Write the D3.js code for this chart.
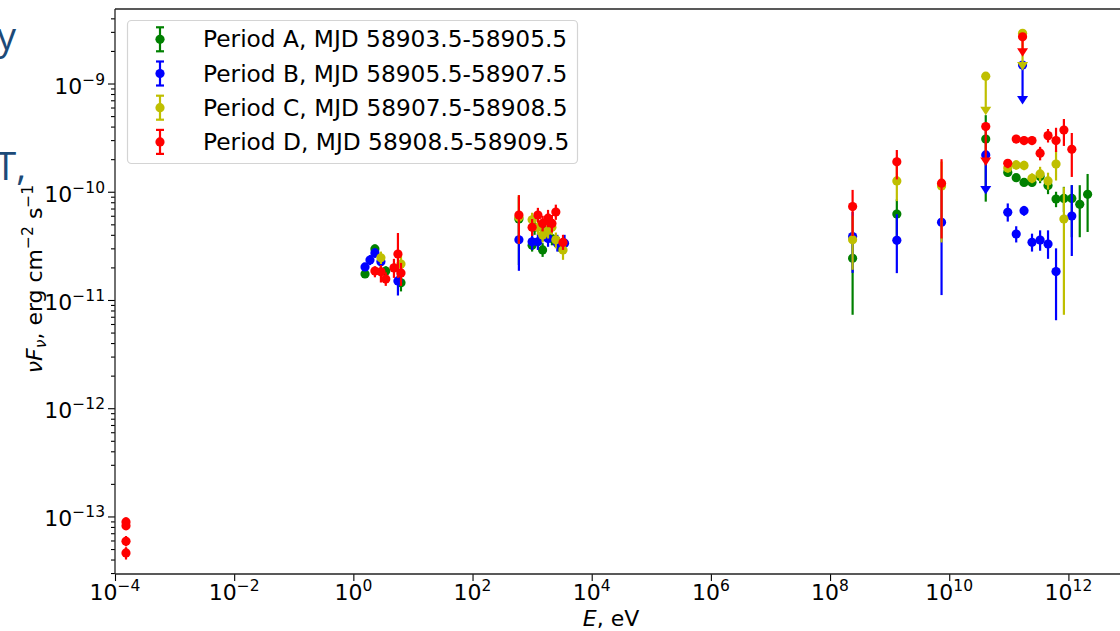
<html>
<head>
<meta charset="utf-8">
<script src="https://d3js.org/d3.v7.min.js"></script>
<style>
  body { margin:0; background:#fff; }
  svg text { font-family:"DejaVu Sans", sans-serif; fill:#000; }
</style>
</head>
<body>
<svg id="plot"></svg>
<script>

// axis limits
var xLimits = [1e-4, 1e13];
var yLimits = [2.94e-14, 4.88e-9];
var xTickExp = [-4, -2, 0, 2, 4, 6, 8, 10, 12];
var yTickExp = [-13, -12, -11, -10, -9];

// legend labels
var periodNames = ["Period A, MJD 58903.5-58905.5",
                   "Period B, MJD 58905.5-58907.5",
                   "Period C, MJD 58907.5-58908.5",
                   "Period D, MJD 58908.5-58909.5"];
var periodColors = ["#008000", "#0000ff", "#bfbf00", "#ff0000"];

// Period A
var periodA_E  = [1.57, 2.3, 3.5, 6.3, 600, 1000, 1100, 1500, 1650, 2150, 2800, 2.39e8, 1.32e9, 4.1e10, 9.6e10, 1.33e11, 1.8e11, 2.45e11, 3.35e11, 4.55e11, 6.2e11, 8.4e11, 1.14e12, 1.55e12, 2.1e12];
var periodA_F  = [1.74e-11, 2.96e-11, 1.85e-11, 1.44e-11, 5.6e-11, 3.2e-11, 4.7e-11, 2.9e-11, 4.4e-11, 3.7e-11, 3.3e-11, 2.43e-11, 6.23e-11, 3.07e-10, 1.51e-10, 1.35e-10, 1.22e-10, 1.22e-10, 1.38e-10, 1.14e-10, 8.57e-11, 8.67e-11, 8.67e-11, 7.66e-11, 9.46e-11];
var periodA_lo = [1.6e-11, 2.7e-11, 1.65e-11, 1.2e-11, 2.1e-11, 2.8e-11, 4.0e-11, 2.5e-11, 3.8e-11, 3.2e-11, 2.8e-11, 7.3e-12, 3.6e-11, 8.1e-11, 1.38e-10, 1.25e-10, 1.13e-10, 1.12e-10, 1.2e-10, 9.5e-11, 7.2e-11, 6.5e-11, 3.8e-11, 3.8e-11, 4.25e-11];
var periodA_hi = [1.9e-11, 3.25e-11, 2.05e-11, 1.7e-11, 9.0e-11, 3.7e-11, 5.5e-11, 3.35e-11, 5.1e-11, 4.3e-11, 3.8e-11, 3.9e-11, 8.5e-11, 5.1e-10, 1.65e-10, 1.46e-10, 1.32e-10, 1.33e-10, 1.58e-10, 1.35e-10, 1.0e-10, 1.11e-10, 1.15e-10, 1.15e-10, 1.46e-10];
var periodA_ulE = [], periodA_ulF = [], periodA_ulLo = [];

// Period B
var periodB_E  = [1.57, 1.9, 2.3, 2.9, 5.6, 600, 1000, 1250, 1600, 1850, 2650, 3500, 2.39e8, 1.32e9, 7.43e9, 9.6e10, 1.33e11, 1.8e11, 2.45e11, 3.35e11, 4.55e11, 6.2e11, 1.14e12];
var periodB_F  = [2.02e-11, 2.34e-11, 2.72e-11, 2.25e-11, 1.5e-11, 3.6e-11, 3.45e-11, 3.45e-11, 4.1e-11, 3.7e-11, 3.35e-11, 3.35e-11, 3.85e-11, 3.56e-11, 5.22e-11, 6.46e-11, 4.07e-11, 6.68e-11, 3.41e-11, 3.58e-11, 3.29e-11, 1.83e-11, 5.97e-11];
var periodB_lo = [1.85e-11, 2.1e-11, 2.45e-11, 1.95e-11, 1.1e-11, 1.86e-11, 2.9e-11, 2.9e-11, 3.5e-11, 3.1e-11, 2.8e-11, 2.8e-11, 1.78e-11, 1.77e-11, 1.11e-11, 5.3e-11, 3.4e-11, 6.0e-11, 2.8e-11, 2.85e-11, 2.4e-11, 6.5e-12, 2.55e-11];
var periodB_hi = [2.2e-11, 2.6e-11, 3.0e-11, 2.6e-11, 1.9e-11, 6.0e-11, 4.1e-11, 4.1e-11, 4.8e-11, 4.4e-11, 4.0e-11, 4.0e-11, 6.5e-11, 6.2e-11, 1.1e-10, 7.8e-11, 4.8e-11, 7.4e-11, 4.1e-11, 4.4e-11, 4.4e-11, 3.0e-11, 1.15e-10];
var periodB_ulE = [4.1e10, 1.7e11], periodB_ulF = [2.19e-10, 1.48e-9], periodB_ulLo = [1.04e-10, 7.05e-10];

// Period C
var periodC_E  = [2.9, 6.3, 600, 1000, 1250, 1500, 1850, 2150, 2500, 3300, 2.39e8, 1.32e9, 7.43e9, 9.6e10, 1.33e11, 1.8e11, 2.45e11, 3.35e11, 4.55e11, 6.2e11, 8.4e11];
var periodC_F  = [2.45e-11, 2.15e-11, 5.8e-11, 5.5e-11, 4.7e-11, 3.98e-11, 4.4e-11, 4.7e-11, 3.6e-11, 2.9e-11, 3.6e-11, 1.26e-10, 1.13e-10, 1.66e-10, 1.77e-10, 1.75e-10, 1.33e-10, 1.46e-10, 1.26e-10, 1.8e-10, 5.6e-11];
var periodC_lo = [2.15e-11, 1.7e-11, 3.3e-11, 4.7e-11, 4.0e-11, 3.4e-11, 3.7e-11, 4.0e-11, 3.0e-11, 2.35e-11, 1.9e-11, 8.2e-11, 3.4e-11, 1.5e-10, 1.6e-10, 1.58e-10, 1.2e-10, 1.25e-10, 1.05e-10, 1.27e-10, 7.3e-12];
var periodC_hi = [2.8e-11, 2.6e-11, 9.3e-11, 6.4e-11, 5.5e-11, 4.6e-11, 5.2e-11, 5.5e-11, 4.2e-11, 3.4e-11, 6.0e-11, 1.85e-10, 1.9e-10, 1.85e-10, 1.95e-10, 1.93e-10, 1.48e-10, 1.7e-10, 1.5e-10, 2.4e-10, 1.1e-10];
var periodC_ulE = [4.1e10, 1.7e11], periodC_ulF = [1.17e-9, 2.91e-9], periodC_ulLo = [5.6e-10, 1.45e-9];

// Period D
var periodD_E  = [1.53e-4, 1.53e-4, 1.53e-4, 1.53e-4, 2.3, 2.9, 3.5, 4.8, 5.6, 6.3, 600, 1000, 1250, 1500, 1850, 2150, 2500, 3300, 2.39e8, 1.32e9, 7.43e9, 9.6e10, 1.33e11, 1.8e11, 2.45e11, 3.35e11, 4.55e11, 6.2e11, 8.4e11, 1.14e12];
var periodD_F  = [8.9e-14, 8.2e-14, 5.9e-14, 4.6e-14, 1.85e-11, 1.82e-11, 1.56e-11, 1.98e-11, 2.66e-11, 1.78e-11, 6.1e-11, 4.7e-11, 6.1e-11, 5.1e-11, 5.7e-11, 5.1e-11, 6.5e-11, 3.4e-11, 7.3e-11, 1.89e-10, 1.2e-10, 1.83e-10, 3.07e-10, 2.97e-10, 2.97e-10, 2.27e-10, 3.3e-10, 2.97e-10, 3.72e-10, 2.47e-10];
var periodD_lo = [8.1e-14, 7.5e-14, 5.3e-14, 4.0e-14, 1.62e-11, 1.45e-11, 1.35e-11, 1.6e-11, 1.6e-11, 1.35e-11, 3.3e-11, 3.9e-11, 5.2e-11, 4.3e-11, 4.7e-11, 4.2e-11, 5.5e-11, 2.9e-11, 3.9e-11, 1.3e-10, 3.7e-11, 1.65e-10, 2.8e-10, 2.7e-10, 2.7e-10, 1.95e-10, 2.85e-10, 2.33e-10, 2.65e-10, 1.37e-10];
var periodD_hi = [9.8e-14, 9.0e-14, 6.6e-14, 5.2e-14, 2.05e-11, 2.1e-11, 1.8e-11, 2.4e-11, 4.16e-11, 2.2e-11, 9.3e-11, 5.6e-11, 7.1e-11, 6.0e-11, 6.8e-11, 6.1e-11, 7.6e-11, 4.0e-11, 1.04e-10, 2.43e-10, 2.0e-10, 2.0e-10, 3.35e-10, 3.25e-10, 3.25e-10, 2.6e-10, 3.8e-10, 3.9e-10, 4.7e-10, 3.49e-10];
var periodD_ulE = [4.1e10, 1.7e11], periodD_ulF = [4.0e-10, 2.7e-9], periodD_ulLo = [1.9e-10, 1.94e-9];


var screen = {width:1120, height:631};
var plot = {left:115, top:9, bottom:574, right:1128};

var svg = d3.select("#plot")
    .attr("width", screen.width)
    .attr("height", screen.height);

var xScale = d3.scaleLog().domain(xLimits).range([plot.left, plot.right]);
var yScale = d3.scaleLog().domain(yLimits).range([plot.bottom, plot.top]);

// bits of slide text cut off on the left
svg.append("text").attr("x", 16).attr("y", 50).attr("text-anchor", "end")
    .style("font-family", "'Open Sans', sans-serif").style("font-size", "38px")
    .style("fill", "#1c4a78").text("y");
svg.append("text").attr("x", 26).attr("y", 180).attr("text-anchor", "end")
    .style("font-family", "'Open Sans', sans-serif").style("font-size", "38px")
    .style("fill", "#1c4a78").text("T,");

// write 10^n as real text with a superscript
var powLabel = function(text, exp) {
    text.append("tspan").text("10");
    text.append("tspan").attr("dy", -9).style("font-size", "15.5px")
        .text(exp < 0 ? "\u2212" + Math.abs(exp) : String(exp));
}

// axes
var makeAxes = function() {
    var xAxis = d3.axisBottom(xScale)
        .tickValues(xTickExp.map(function(e) { return Math.pow(10, e); }))
        .tickSize(7).tickFormat("");
    svg.append("g").attr("transform", "translate(0," + plot.bottom + ")")
        .call(xAxis);

    var minors = [];
    for (var e = -14; e <= -9; e++)
        for (var m = 2; m <= 9; m++) {
            var v = m * Math.pow(10, e);
            if (v >= yLimits[0] && v <= yLimits[1]) minors.push(v);
        }
    svg.append("g").attr("transform", "translate(" + plot.left + ",0)")
        .call(d3.axisLeft(yScale).tickValues(minors).tickSize(4).tickFormat(""));
    svg.append("g").attr("transform", "translate(" + plot.left + ",0)")
        .call(d3.axisLeft(yScale)
            .tickValues(yTickExp.map(function(e) { return Math.pow(10, e); }))
            .tickSize(7).tickFormat(""));

    svg.selectAll(".domain").remove();
    svg.selectAll(".tick line").attr("stroke", "#000").attr("stroke-width", 1.1);

    // frame: left, top, bottom spines
    svg.append("line").attr("x1", plot.left).attr("x2", plot.left)
        .attr("y1", plot.top).attr("y2", plot.bottom)
        .attr("stroke", "#222").attr("stroke-width", 1.3);
    svg.append("line").attr("x1", plot.left).attr("x2", plot.right)
        .attr("y1", plot.top).attr("y2", plot.top)
        .attr("stroke", "#222").attr("stroke-width", 1.3);
    svg.append("line").attr("x1", plot.left).attr("x2", plot.right)
        .attr("y1", plot.bottom).attr("y2", plot.bottom)
        .attr("stroke", "#222").attr("stroke-width", 1.3);

    // tick labels
    xTickExp.forEach(function(e) {
        var t = svg.append("text").attr("x", xScale(Math.pow(10, e)))
            .attr("y", plot.bottom + 26).attr("text-anchor", "middle")
            .style("font-size", "22px");
        powLabel(t, e);
    });
    yTickExp.forEach(function(e) {
        var t = svg.append("text").attr("x", plot.left - 10)
            .attr("y", yScale(Math.pow(10, e)) + 10).attr("text-anchor", "end")
            .style("font-size", "22px");
        powLabel(t, e);
    });
}

// axis titles
var makeLabels = function() {
    var xl = svg.append("text").attr("x", 611).attr("y", 626)
        .attr("text-anchor", "middle").style("font-size", "22px");
    xl.append("tspan").style("font-style", "italic").text("E");
    xl.append("tspan").text(", eV");

    var yl = svg.append("text")
        .attr("transform", "translate(42,279) rotate(-90)")
        .attr("text-anchor", "middle").style("font-size", "22px");
    yl.append("tspan").style("font-style", "italic").text("\u03BDF");
    yl.append("tspan").style("font-style", "italic").style("font-size", "15.5px")
        .attr("dy", 4).text("\u03BD");
    yl.append("tspan").attr("dy", -4).text(", erg cm");
    yl.append("tspan").style("font-size", "15.5px").attr("dy", -9).text("\u22122");
    yl.append("tspan").attr("dy", 9).text(" s");
    yl.append("tspan").style("font-size", "15.5px").attr("dy", -9).text("\u22121");
}

// one period: error bars, upper limits, markers
var makeSeries = function(color, E, F, lo, hi, ulE, ulF, ulLo) {
    var g = svg.append("g");
    var pts = E.map(function(e, i) { return {e:e, f:F[i], lo:lo[i], hi:hi[i]}; });
    var uls = ulE.map(function(e, i) { return {e:e, f:ulF[i], lo:ulLo[i]}; });

    g.selectAll(".bar").data(pts).enter().append("line")
        .attr("x1", function(d) { return xScale(d.e); })
        .attr("x2", function(d) { return xScale(d.e); })
        .attr("y1", function(d) { return yScale(d.lo); })
        .attr("y2", function(d) { return yScale(d.hi); })
        .attr("stroke", color).attr("stroke-width", 2.2);

    g.selectAll(".ul").data(uls).enter().append("line")
        .attr("x1", function(d) { return xScale(d.e); })
        .attr("x2", function(d) { return xScale(d.e); })
        .attr("y1", function(d) { return yScale(d.f); })
        .attr("y2", function(d) { return yScale(d.lo); })
        .attr("stroke", color).attr("stroke-width", 2.2);
    g.selectAll(".arrow").data(uls).enter().append("path")
        .attr("d", function(d) {
            var x = xScale(d.e), y = yScale(d.lo);
            return "M" + (x - 5.5) + "," + (y - 4) + "L" + (x + 5.5) + "," + (y - 4) +
                   "L" + x + "," + (y + 4.5) + "Z";
        })
        .attr("fill", color);

    g.selectAll(".dot").data(pts.concat(uls)).enter().append("circle")
        .attr("cx", function(d) { return xScale(d.e); })
        .attr("cy", function(d) { return yScale(d.f); })
        .attr("r", 4.6)
        .attr("fill", color);
}

// legend
var makeLegend = function() {
    var lg = svg.append("g");
    lg.append("rect").attr("x", 127.5).attr("y", 20.5).attr("width", 450)
        .attr("height", 143).attr("rx", 4)
        .attr("fill", "#fff").attr("fill-opacity", 0.8)
        .attr("stroke", "#d4d4d4").attr("stroke-width", 1.2);
    periodNames.forEach(function(name, i) {
        var cy = 39.3 + i * 34.2;
        var c = periodColors[i];
        lg.append("line").attr("x1", 160).attr("x2", 160)
            .attr("y1", cy - 12).attr("y2", cy + 12)
            .attr("stroke", c).attr("stroke-width", 2.2);
        [cy - 12, cy + 12].forEach(function(yy) {
            lg.append("line").attr("x1", 156).attr("x2", 164)
                .attr("y1", yy).attr("y2", yy)
                .attr("stroke", c).attr("stroke-width", 2.2);
        });
        lg.append("circle").attr("cx", 160).attr("cy", cy).attr("r", 4.6).attr("fill", c);
        lg.append("text").attr("x", 203).attr("y", cy + 8)
            .style("font-size", "23.3px").text(name);
    });
}

makeAxes();
makeLabels();
makeSeries(periodColors[0], periodA_E, periodA_F, periodA_lo, periodA_hi, periodA_ulE, periodA_ulF, periodA_ulLo);
makeSeries(periodColors[1], periodB_E, periodB_F, periodB_lo, periodB_hi, periodB_ulE, periodB_ulF, periodB_ulLo);
makeSeries(periodColors[2], periodC_E, periodC_F, periodC_lo, periodC_hi, periodC_ulE, periodC_ulF, periodC_ulLo);
makeSeries(periodColors[3], periodD_E, periodD_F, periodD_lo, periodD_hi, periodD_ulE, periodD_ulF, periodD_ulLo);
makeLegend();

</script>
</body>
</html>
